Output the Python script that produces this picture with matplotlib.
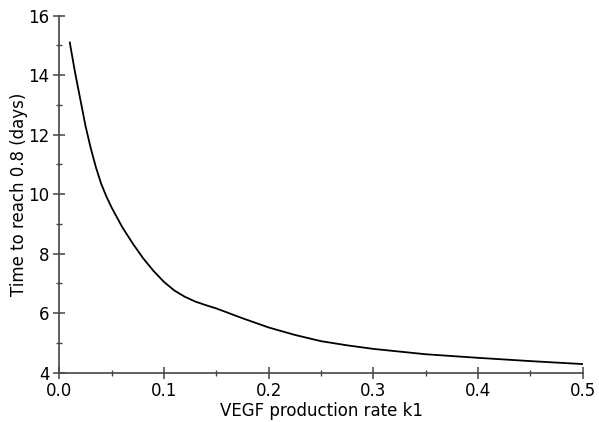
import matplotlib
matplotlib.use("Agg")
import matplotlib.pyplot as plt
from matplotlib.ticker import MultipleLocator

# values
k1 = [0.01, 0.015, 0.02, 0.025, 0.03, 0.035, 0.04, 0.045, 0.05, 0.06, 0.07,
      0.08, 0.09, 0.1, 0.11, 0.12, 0.13, 0.14, 0.15, 0.175, 0.2, 0.225,
      0.25, 0.275, 0.3, 0.35, 0.4, 0.45, 0.5]
t_days = [15.1, 14.1, 13.2, 12.3, 11.55, 10.9, 10.35, 9.92, 9.55, 8.9, 8.35,
          7.85, 7.42, 7.05, 6.76, 6.55, 6.39, 6.27, 6.16, 5.83, 5.52, 5.27,
          5.06, 4.92, 4.8, 4.62, 4.5, 4.39, 4.29]

plt.rcParams["font.family"] = ["DejaVu Sans"]

fig = plt.figure(figsize=(5.99, 4.22), dpi=100)
ax = fig.add_axes([0.099, 0.1168, 0.874, 0.846])

ax.plot(k1, t_days, color="black", lw=1.3)

ax.set_xlim(0, 0.5)
ax.set_ylim(4, 16)
ax.xaxis.set_major_locator(MultipleLocator(0.1))
ax.xaxis.set_minor_locator(MultipleLocator(0.05))
ax.yaxis.set_major_locator(MultipleLocator(2))
ax.yaxis.set_minor_locator(MultipleLocator(1))
ax.set_xticklabels([f"{v:.1f}" for v in ax.get_xticks()])

for s in ["top", "right"]:
    ax.spines[s].set_visible(False)
for s in ["left", "bottom"]:
    ax.spines[s].set_color("#444444")
    ax.spines[s].set_linewidth(1.2)

ax.tick_params(which="major", direction="inout", length=8, width=1.1,
               color="#444444", labelsize=12, pad=3)
ax.tick_params(which="minor", direction="inout", length=4, width=1.0,
               color="#444444")

ax.set_xlabel("VEGF production rate k1", fontsize=12, labelpad=1)
ax.set_ylabel("Time to reach 0.8 (days)", fontsize=12, labelpad=0.5)

fig.savefig("out.png", dpi=100)
